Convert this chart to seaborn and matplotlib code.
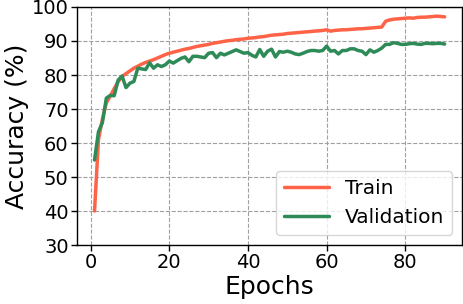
import numpy as np
import pandas as pd
import matplotlib
matplotlib.use("Agg")
import matplotlib.pyplot as plt
import seaborn as sns

epochs = list(range(1, 91))
train_acc = [40.0, 61.0, 67.0, 71.8, 73.8, 76.0, 78.0, 79.6, 80.4, 81.2,
             82.0, 82.6, 83.2, 83.7, 84.1, 84.5, 85.0, 85.5, 86.0, 86.4,
             86.7, 87.0, 87.3, 87.6, 87.8, 88.1, 88.4, 88.6, 88.8, 89.0,
             89.3, 89.5, 89.7, 89.9, 90.1, 90.2, 90.4, 90.5, 90.6, 90.8,
             90.9, 91.0, 91.2, 91.3, 91.5, 91.7, 91.8, 91.9, 92.0, 92.2,
             92.3, 92.4, 92.5, 92.6, 92.7, 92.8, 92.9, 93.0, 93.1, 93.3,
             92.9, 93.1, 93.2, 93.3, 93.3, 93.4, 93.5, 93.6, 93.6, 93.7,
             93.8, 93.9, 94.0, 94.1, 95.8, 96.2, 96.4, 96.5, 96.6, 96.7,
             96.8, 96.7, 96.9, 97.0, 97.0, 97.1, 97.2, 97.3, 97.2, 97.1]
val_acc = [55.0, 63.3, 66.0, 73.2, 74.0, 73.9, 78.5, 79.7, 76.3, 77.6,
           78.1, 82.0, 81.8, 81.6, 83.6, 82.0, 83.0, 82.5, 83.0, 84.1,
           83.5, 84.2, 84.9, 85.3, 83.9, 85.5, 85.5, 85.3, 85.1, 86.4,
           86.6, 85.1, 86.4, 85.9, 86.4, 86.9, 87.4, 86.9, 86.4, 86.6,
           85.8, 85.3, 87.5, 85.5, 87.0, 87.6, 85.3, 86.9, 86.7, 87.0,
           86.7, 86.2, 86.0, 86.4, 86.9, 87.2, 87.2, 87.0, 87.2, 88.5,
           87.0, 87.2, 86.2, 87.2, 87.2, 87.7, 87.7, 87.2, 87.0, 86.0,
           87.4, 86.7, 87.2, 87.9, 89.0, 89.0, 89.5, 89.3, 89.0, 89.0,
           89.2, 89.3, 89.1, 89.0, 89.3, 89.3, 89.2, 89.3, 89.3, 89.1]
series_names = ["Train", "Validation"]
colors = ["#ff6347", "#2e8b57"]

df = pd.DataFrame({
    "Epochs": epochs * 2,
    "Accuracy": train_acc + val_acc,
    "Set": [series_names[0]] * len(epochs) + [series_names[1]] * len(epochs),
})

sns.set_style("ticks", {"text.color": "black", "axes.labelcolor": "black",
                        "xtick.color": "black", "ytick.color": "black",
                        "axes.edgecolor": "black"})
plt.rcParams['font.family'] = ['DejaVu Sans']

fig = plt.figure(figsize=(4.64, 3.04), dpi=100)
ax = fig.add_axes([0.166, 0.194, 0.830, 0.783])
sns.lineplot(data=df, x="Epochs", y="Accuracy", hue="Set",
             palette=dict(zip(series_names, colors)), linewidth=2.5, ax=ax)

ax.set_ylim(30, 100)
ax.set_yticks(range(30, 101, 10))
ax.set_xticks(range(0, 81, 20))
ax.grid(True, linestyle="--", color="#a0a0a0", linewidth=0.8)
ax.set_xlabel("Epochs", fontsize=18, labelpad=2, color="black")
ax.set_ylabel("Accuracy (%)", fontsize=18, labelpad=2, color="black")
ax.tick_params(labelsize=14, length=4, width=1, color="black",
               labelcolor="black", pad=2)
for s in ax.spines.values():
    s.set_color("black")
    s.set_linewidth(1)
leg = ax.legend(loc="lower right", fontsize=14.5, title=None, frameon=True,
                handlelength=2.2)
for t in leg.get_texts():
    t.set_color("black")

fig.savefig("out.png", dpi=100)
